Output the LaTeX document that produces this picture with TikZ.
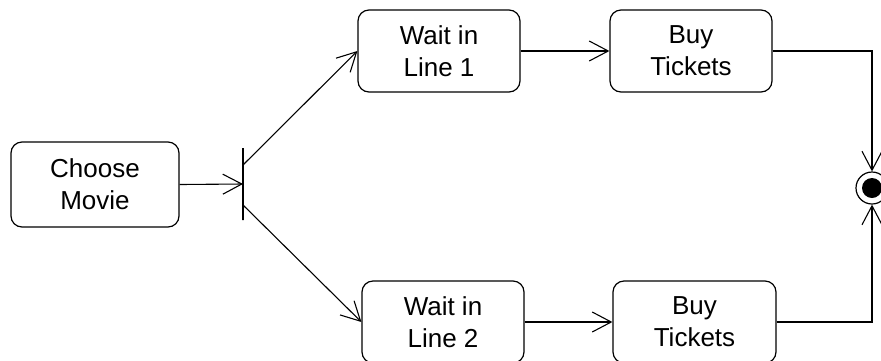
\documentclass[tikz,border=0pt]{standalone}
\usepackage{fontspec}
\setmainfont{Liberation Sans}
\usetikzlibrary{arrows.meta}
\begin{document}
\begin{tikzpicture}[x={(1pt,0)},y={(0,-1pt)},
  state/.style={draw,line width=1.2pt,rounded corners=11pt,inner sep=0pt,
    minimum width=162pt,minimum height=82pt,align=center,
    font=\fontsize{26}{32}\selectfont},
  arr/.style={line width=1.1pt,-{Straight Barb[length=19pt,width=20pt,line width=1.1pt]}},
  forkbar/.style={draw,line width=1.2pt,inner sep=0pt,minimum width=0pt,minimum height=72pt}]
\useasboundingbox (0,0) rectangle (881,360);
\node[state,minimum width=168pt,minimum height=85pt] (choose) at (95,184.5) {Choose\\Movie};
\node[state] (wait1) at (439,51) {Wait in\\Line 1};
\node[state] (buy1) at (691,51) {Buy\\Tickets};
\node[state] (wait2) at (443,322) {Wait in\\Line 2};
\node[state,minimum width=163pt] (buy2) at (694.5,322) {Buy\\Tickets};
\node[forkbar] (bar) at (243,184) {};
\coordinate (f1) at (243,165);
\coordinate (f2) at (243,205);
\node[circle,draw,line width=1.2pt,minimum size=32pt,inner sep=0pt] (fin) at (872,188) {};
\fill (fin.center) circle (10pt);
\draw[arr] (choose.east) -- (bar.center);
\draw[arr] (f1) -- (wait1.west);
\draw[arr] (f2) -- (wait2.west);
\draw[arr] (wait1.east) -- (buy1.west);
\draw[arr] (wait2.east) -- (buy2.west);
\draw[arr] (buy1.east) -| (fin.north);
\draw[arr] (buy2.east) -| (fin.south);
\end{tikzpicture}
\end{document}
